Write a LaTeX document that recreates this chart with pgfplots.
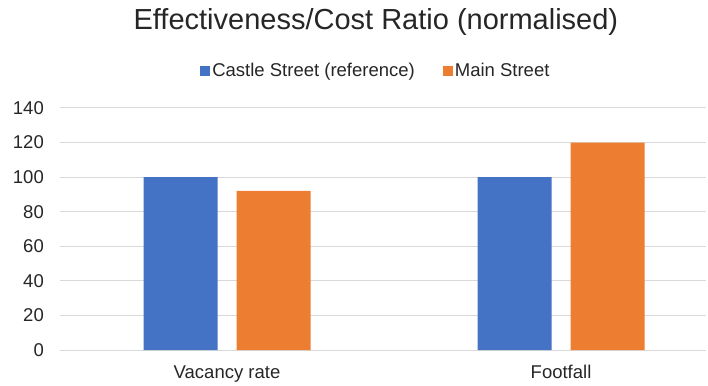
\documentclass[border=0pt]{standalone}
\usepackage{fontspec}
\setmainfont{Liberation Sans}
\usepackage{pgfplots}
\pgfplotsset{compat=1.18}
\definecolor{cblue}{HTML}{4472C4}
\definecolor{corange}{HTML}{ED7D31}
\definecolor{gridc}{HTML}{D9D9D9}
\definecolor{txt}{HTML}{262626}
\begin{document}
\begin{tikzpicture}
\begin{axis}[
  name=ax,
  scale only axis,
  width=646pt, height=242pt,
  xmin=-0.5, xmax=1.434,
  ymin=0, ymax=140,
  ytick={0,20,...,140},
  xtick={0,1},
  xticklabels={Vacancy rate, Footfall},
  axis line style={draw=none},
  major tick length=0pt,
  ymajorgrids,
  grid style={gridc, line width=1pt},
  /pgf/number format/assume math mode=true,
  ticklabel style={font=\fontsize{18.5}{22}\selectfont, text=txt},
  yticklabel style={inner sep=0pt, anchor=east, xshift=-16pt},
  xticklabel style={inner sep=0pt, anchor=base, yshift=-28pt},
  ybar=19pt,
  bar width=74pt,
  title={Effectiveness/Cost Ratio (normalised)},
  title style={font=\fontsize{29}{34}\selectfont, text=txt, anchor=base, inner sep=0pt, at={(axis description cs:0.489,1.298)}},
  legend style={draw=none, at={(axis description cs:0.489,1.153)}, anchor=center,
    font=\fontsize{18.5}{22}\selectfont, text=txt, legend columns=2,
    /tikz/every even column/.append style={column sep=26pt}},
  legend image code/.code={\fill[#1] (0pt,-5pt) rectangle (10pt,5pt);},
]
\addplot[fill=cblue, draw=none] coordinates {(0,100) (1,100)};
\addplot[fill=corange, draw=none] coordinates {(0,92) (1,120)};
\legend{Castle Street (reference), Main Street}
\end{axis}
\pgfresetboundingbox
\path ([xshift=-60pt,yshift=-35pt]ax.south west) rectangle ([xshift=648pt,yshift=350pt]ax.south west);
\end{tikzpicture}
\end{document}
